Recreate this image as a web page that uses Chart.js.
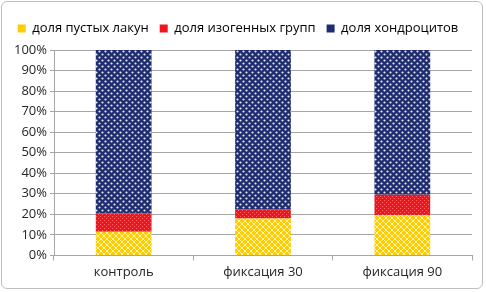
<!DOCTYPE html>
<html>
<head>
<meta charset="utf-8">
<script src="https://cdn.jsdelivr.net/npm/chart.js@4.4.1/dist/chart.umd.min.js"></script>
<style>
  html, body { margin: 0; padding: 0; background: #fff; }
  #wrap {
    position: absolute; left: 1px; top: 1px; width: 482px; height: 288px;
    border: 1px solid #bfbfbf; border-radius: 6px; box-sizing: border-box;
  }
  #chart { position: absolute; left: 0; top: 0; }
</style>
</head>
<body>
<div id="wrap"><canvas id="chart" width="480" height="286"></canvas></div>
<script>
// data (percent of total)
var categories = ['контроль', 'фиксация 30', 'фиксация 90'];
var seriesNames = ['доля пустых лакун', 'доля изогенных групп', 'доля хондроцитов'];
var emptyLacunae = [11.5, 18, 19.5];
var isogenicGroups = [9, 4.5, 10];
var chondrocytes = [79.5, 77.5, 70.5];
var yTicks = [0, 10, 20, 30, 40, 50, 60, 70, 80, 90, 100];

// pattern helpers
function makePattern(size, draw) {
    var c = document.createElement('canvas');
    c.width = size;
    c.height = size;
    var g = c.getContext('2d');
    draw(g, size);
    return g.createPattern(c, 'repeat');
}

var ctx = document.getElementById('chart').getContext('2d');

var yellowPattern = makePattern(6, function (g, s) {
    g.fillStyle = '#ffcc00';
    g.fillRect(0, 0, s, s);
    g.strokeStyle = '#fff3b0';
    g.lineWidth = 1;
    g.beginPath();
    g.moveTo(0, 0); g.lineTo(s, s);
    g.moveTo(s, 0); g.lineTo(0, s);
    g.stroke();
});

var redPattern = makePattern(4, function (g, s) {
    g.fillStyle = '#f0141e';
    g.fillRect(0, 0, s, s);
    g.fillStyle = '#ff6a6a';
    g.fillRect(0, 0, 1, 1);
    g.fillRect(2, 2, 1, 1);
});

var navyPattern = makePattern(6, function (g, s) {
    g.fillStyle = '#1f2c6e';
    g.fillRect(0, 0, s, s);
    g.fillStyle = '#e6ebf7';
    g.beginPath();
    g.arc(1.5, 1.5, 1.1, 0, Math.PI * 2);
    g.arc(4.5, 4.5, 1.1, 0, Math.PI * 2);
    g.fill();
});

var fonts = '"Open Sans", "Liberation Sans", sans-serif';

// extra room between legend and plot
var legendMargin = {
    id: 'legendMargin',
    beforeInit: function (chart) {
        var fit = chart.legend.fit;
        chart.legend.fit = function () {
            fit.bind(chart.legend)();
            this.height += 5;
        };
    }
};

new Chart(ctx, {
    type: 'bar',
    data: {
        labels: categories,
        datasets: [
            {
                label: seriesNames[0],
                data: emptyLacunae,
                backgroundColor: yellowPattern,
                borderWidth: 0
            },
            {
                label: seriesNames[1],
                data: isogenicGroups,
                backgroundColor: redPattern,
                borderWidth: 0
            },
            {
                label: seriesNames[2],
                data: chondrocytes,
                backgroundColor: navyPattern,
                borderWidth: 0
            }
        ]
    },
    plugins: [legendMargin],
    options: {
        responsive: false,
        animation: false,
        devicePixelRatio: 1,
        layout: {
            padding: { left: 2, right: 10, top: 9, bottom: 4 }
        },
        datasets: {
            bar: {
                categoryPercentage: 1,
                barPercentage: 0.4
            }
        },
        plugins: {
            tooltip: { enabled: false },
            legend: {
                position: 'top',
                labels: {
                    color: '#262626',
                    font: { family: fonts, size: 13 },
                    boxWidth: 8,
                    boxHeight: 8,
                    padding: 11,
                    generateLabels: function (chart) {
                        var cols = ['#ffcc00', '#f0141e', '#1f2c6e'];
                        return chart.data.datasets.map(function (ds, i) {
                            return {
                                text: ds.label,
                                fillStyle: cols[i],
                                strokeStyle: cols[i],
                                lineWidth: 0,
                                datasetIndex: i
                            };
                        });
                    }
                }
            }
        },
        scales: {
            x: {
                stacked: true,
                grid: {
                    offset: true,
                    drawOnChartArea: false,
                    drawTicks: true,
                    tickLength: 5,
                    color: '#a6a6a6'
                },
                border: { color: '#a6a6a6' },
                ticks: {
                    color: '#262626',
                    font: { family: fonts, size: 13 },
                    padding: 4
                }
            },
            y: {
                stacked: true,
                min: 0,
                max: 100,
                afterBuildTicks: function (axis) {
                    axis.ticks = yTicks.map(function (v) { return { value: v }; });
                },
                afterFit: function (axis) {
                    axis.width = 50;
                },
                grid: {
                    color: '#a6a6a6',
                    tickLength: 4
                },
                border: { color: '#a6a6a6' },
                ticks: {
                    autoSkip: false,
                    color: '#262626',
                    font: { family: fonts, size: 13 },
                    padding: 3,
                    callback: function (v) { return v + '%'; }
                }
            }
        }
    }
});
</script>
</body>
</html>
